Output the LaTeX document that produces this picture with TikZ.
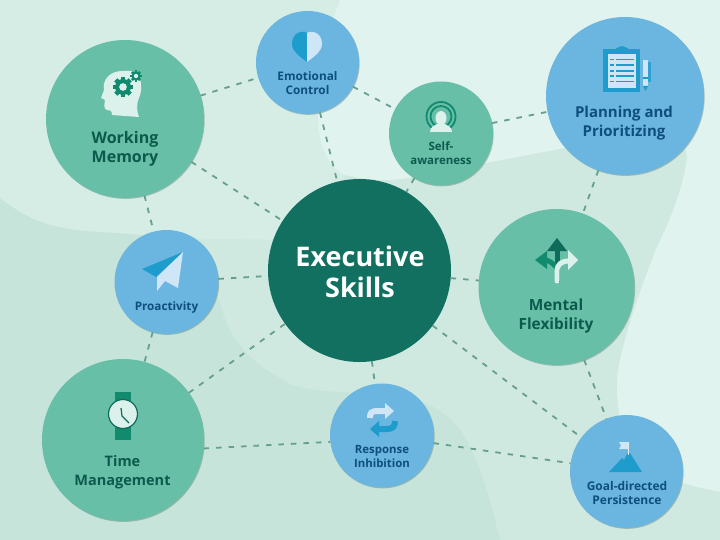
\documentclass[tikz,border=0pt]{standalone}
\usepackage{fontspec}
\setmainfont{Open Sans}
\usetikzlibrary{shadows}
\definecolor{bgmid}{HTML}{CFE9E0}
\definecolor{bgtl}{HTML}{D5EDE5}
\definecolor{bgdark}{HTML}{C7E4DA}
\definecolor{bglight}{HTML}{E0F3EE}
\definecolor{cgreen}{HTML}{68BFA8}
\definecolor{cblue}{HTML}{6BB5E1}
\definecolor{cdark}{HTML}{11705F}
\definecolor{tgreen}{HTML}{0B5A4C}
\definecolor{tblue}{HTML}{0E4F7E}
\definecolor{conn}{HTML}{669F90}
\definecolor{icgreen}{HTML}{128A6E}
\definecolor{icdark}{HTML}{0F6B5A}
\definecolor{icblue}{HTML}{1E9CCB}
\definecolor{icpale}{HTML}{CFE6F7}
\definecolor{icmint}{HTML}{DCF1EC}
\tikzset{
  disc/.style={circle,inner sep=0pt,outer sep=0pt,minimum size=#1,
    drop shadow={shadow xshift=0.7pt,shadow yshift=-0.9pt,fill=black!60!cgreen,opacity=.3}},
  greendisc/.style={disc=#1,fill=cgreen},
  bluedisc/.style={disc=#1,fill=cblue},
  link/.style={draw=conn,line width=1.8pt,dash pattern=on 5.5pt off 7pt},
  txtgreen/.style={align=center,inner sep=0pt,text=tgreen,font=\bfseries\fontsize{#1}{19}\selectfont},
  txtblue/.style={align=center,inner sep=0pt,text=tblue,font=\bfseries\fontsize{#1}{19}\selectfont},
  smalltxtgreen/.style={align=center,inner sep=0pt,text=tgreen,font=\bfseries\fontsize{#1}{14}\selectfont},
  smalltxtblue/.style={align=center,inner sep=0pt,text=tblue,font=\bfseries\fontsize{#1}{14}\selectfont},
}
\newcommand{\gearicon}[4]{% x y r holecolour
  \foreach \a in {0,45,...,315}{
    \fill[icgreen,shift={(#1,#2)},rotate=\a] (-#3*0.28,0) rectangle (#3*0.28,#3*1.28);
  }
  \fill[icgreen] (#1,#2) circle[radius=#3];
  \fill[#4] (#1,#2) circle[radius=#3*0.48];
}
\begin{document}
\begin{tikzpicture}[x=1pt,y=-1pt]
\useasboundingbox (0,0) rectangle (720,540);
\begin{scope}
\clip (0,0) rectangle (720,540);
\fill[bgmid] (0,0) rectangle (720,540);
\fill[bgtl] (0,0) -- (345,0) -- (345,175) -- (300,240) -- (150,238) -- (100,232)
  .. controls (50,230) and (25,218) .. (0,198) -- cycle;
\fill[bgdark] (0,198) .. controls (25,218) and (50,230) .. (100,232)
  .. controls (130,234) and (160,235) .. (180,245)
  .. controls (205,260) and (215,285) .. (222,310)
  .. controls (232,345) and (255,365) .. (290,384)
  .. controls (310,392) and (340,392) .. (375,393)
  .. controls (420,395) and (445,410) .. (460,430)
  .. controls (480,460) and (490,500) .. (500,540)
  -- (0,540) -- cycle;
\fill[bglight] (340,0) -- (720,0) -- (720,492)
  .. controls (700,488) and (690,485) .. (675,481)
  -- (620,420)
  .. controls (616,395) and (616,375) .. (620,360)
  .. controls (628,325) and (640,290) .. (657,247)
  .. controls (670,220) and (683,190) .. (687,157)
  .. controls (687,150) and (684,148) .. (680,146)
  -- (580,145) -- (413,177)
  .. controls (390,182) and (365,180) .. (345,175)
  .. controls (325,165) and (318,140) .. (318,115)
  .. controls (318,70) and (330,25) .. (340,0) -- cycle;
\end{scope}

% discs
\node[circle,inner sep=0pt,outer sep=0pt,minimum size=183pt,fill=cdark] (exec) at (359.5,270.5) {};
\node[greendisc=158pt] (wm) at (125,119) {};
\node[bluedisc=103pt] (ec) at (307.5,62.5) {};
\node[greendisc=104pt] (sa) at (441,133.5) {};
\node[bluedisc=158pt] (pp) at (625,96) {};
\node[bluedisc=104pt] (pa) at (166.5,282) {};
\node[greendisc=156pt] (mf) at (556.5,287) {};
\node[greendisc=162pt] (tm) at (123,440) {};
\node[bluedisc=104pt] (ri) at (382,435.5) {};
\node[bluedisc=113pt] (gp) at (626.5,471.5) {};

% connectors
\draw[link] (wm) -- (ec);
\draw[link] (ec) -- (sa);
\draw[link] (ec) -- (exec);
\draw[link] (wm) -- (exec);
\draw[link] (sa) -- (exec);
\draw[link] (sa) -- (pp);
\draw[link] (pp) -- (mf);
\draw[link] (wm) -- (pa);
\draw[link] (pa) -- (exec);
\draw[link] (pa) -- (tm);
\draw[link] (tm) -- (exec);
\draw[link] (tm.-6.5) -- (ri.187);
\draw[link] (exec) -- (ri);
\draw[link] (exec) -- (gp);
\draw[link] (exec) -- (mf);
\draw[link] (mf) -- (gp);
\draw[link] (ri) -- (gp);

% labels
\node[align=center,inner sep=0pt,text=white,font=\bfseries\fontsize{27}{31.5}\selectfont] (lexec) at (360,272) {Executive\\Skills};
\node[txtgreen=16] (lwm) at (125,149) {Working\\Memory};
\node[smalltxtblue=11.8] (lec) at (307.5,83) {Emotional\\Control};
\node[smalltxtgreen=11.5] (lsa) at (441,153.5) {Self-\\awareness};
\node[txtblue=15] (lpp) at (624,123) {Planning and\\Prioritizing};
\node[smalltxtblue=11.7] (lpa) at (166.5,307) {Proactivity};
\node[txtgreen=15.4] (lmf) at (556,316) {Mental\\Flexibility};
\node[txtgreen=14.5] (ltm) at (122.5,472) {Time\\Management};
\node[smalltxtblue=11.4] (lri) at (382,456) {Response\\Inhibition};
\node[smalltxtblue=12] (lgp) at (627,493) {Goal-directed\\Persistence};

% head with gears
\fill[icmint] (112,115) .. controls (112,110) and (110,110) .. (107,110)
  .. controls (104,110) and (104,105) .. (105,100) -- (101,98) -- (104,90)
  .. controls (102,80) and (110,71) .. (122,71)
  -- (132,71) .. controls (142,73) and (143,90) .. (139,98)
  .. controls (136,105) and (137,112) .. (139,117) -- cycle;
\gearicon{123}{87}{8}{icmint}
\gearicon{136}{76}{4.5}{icmint}

% heart
\fill[icblue] (307,33) .. controls (303,30) and (292,32) .. (292,44)
  .. controls (292,52) and (302,58) .. (307,62) -- cycle;
\fill[icpale] (307,33) .. controls (311,30) and (322,32) .. (322,44)
  .. controls (322,52) and (312,58) .. (307,62) -- cycle;

% self-awareness
\begin{scope}
  \clip (420,95) rectangle (462,129);
  \draw[icgreen,line width=1.8pt] (441,116.5) circle[radius=14.5];
  \draw[icgreen,line width=1.8pt] (441,116.5) circle[radius=10.5];
\end{scope}
\fill[icmint] (430,132) .. controls (430,127) and (434,126) .. (437,124)
  -- (445,124) .. controls (448,126) and (452,127) .. (452,132) -- cycle;
\fill[icmint] (441,118) ellipse[x radius=5.5,y radius=7];

% clipboard
\fill[icblue] (603,49) rectangle (640,92);
\fill[icblue] (612,50) .. controls (618,49) and (618,46) .. (622,46)
  .. controls (626,46) and (626,49) .. (632,50) -- cycle;
\fill[icpale] (608,54) rectangle (636,88);
\foreach \yy in {59.5,65,71,76,81.5}{
  \fill[icblue] (610,\yy-0.6) rectangle (614,\yy+0.6);
  \fill[icblue] (616,\yy-0.6) rectangle (634,\yy+0.6);
}
\fill[icblue!80!cblue] (647,62) rectangle (651,82);
\fill[icpale] (643,60) rectangle (648,86);
\fill[icblue] (643,77.5) rectangle (648,79);
\fill[icblue] (643,86) -- (648,86) -- (645.5,91) -- cycle;

% paper plane
\fill[icblue] (183,252) -- (142,269) -- (156,277) -- cycle;
\fill[icpale] (183,252) -- (157,277) -- (157,291) -- (165,281) -- (178,288) -- cycle;

% mental flexibility arrows
\draw[icdark,line width=5pt] (557,282) -- (557,248);
\fill[icdark] (557,238) -- (567,251) -- (547,251) -- cycle;
\draw[icgreen,line width=5pt] (557,268) .. controls (552,262) and (548,260) .. (544,260);
\fill[icgreen] (535,260) -- (547,251) -- (547,269) -- cycle;
\draw[icmint,line width=5pt,line cap=round] (557,281) -- (557,272) .. controls (557,264) and (561,261) .. (570,261);
\fill[icmint] (578,260) -- (568,250) -- (568,270) -- cycle;

% watch
\fill[icgreen] (115,392) rectangle (131,440);
\fill[icmint,draw=icdark,line width=1.2pt] (123,414) circle[radius=14.5];
\draw[icdark,line width=1.2pt] (121,408) -- (122,416) -- (129,423);

% response arrows
\draw[icpale,line width=6pt] (370,418) .. controls (370,413) and (371,411) .. (378,411) -- (388,411);
\fill[icpale] (394,411) -- (385,403) -- (385,419) -- cycle;
\draw[icblue,line width=6pt] (395,421) .. controls (395,426) and (393,429) .. (387,429) -- (377,429);
\fill[icblue] (370,429) -- (379,421) -- (379,437) -- cycle;

% flag and mountain
\fill[icblue] (609,472) -- (622,458) -- (624,460) -- (627,454) -- (630,453) -- (642,472) -- cycle;
\draw[icmint,line width=0.8pt] (628,442) -- (628,455);
\fill[icpale] (619,442) -- (628,442) -- (628,449) -- (619,449) -- (621,445.5) -- cycle;
\end{tikzpicture}
\end{document}
